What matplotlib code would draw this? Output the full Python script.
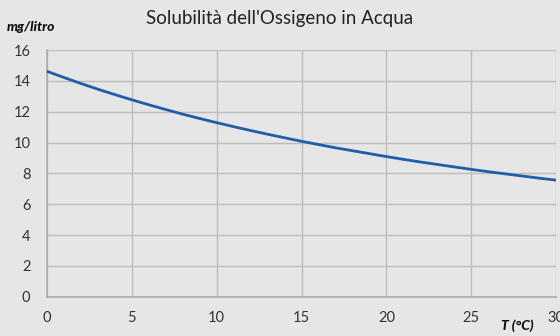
import matplotlib
matplotlib.use("Agg")
import matplotlib.pyplot as plt

# temperatura (°C) e ossigeno disciolto (mg/litro)
temp_c = list(range(0, 31))
oxygen_mg_l = [14.62, 14.22, 13.83, 13.46, 13.11, 12.77, 12.45, 12.14, 11.84, 11.56,
               11.29, 11.03, 10.78, 10.54, 10.31, 10.08, 9.87, 9.66, 9.47, 9.28,
               9.09, 8.91, 8.74, 8.58, 8.42, 8.26, 8.11, 7.97, 7.83, 7.69, 7.56]
x_ticks = [0, 5, 10, 15, 20, 25, 30]
y_ticks = [0, 2, 4, 6, 8, 10, 12, 14, 16]

plt.rcParams['font.family'] = ['Lato', 'DejaVu Sans']
bg = '#e6e6e6'

fig = plt.figure(figsize=(5.6, 3.36), dpi=100, facecolor=bg)
ax = fig.add_axes([0.084, 0.117, 0.909, 0.734], facecolor=bg)

ax.plot(temp_c, oxygen_mg_l, color='#1f5ea8', linewidth=2.0, zorder=3)

ax.set_xlim(0, 30)
ax.set_ylim(0, 16)
ax.set_xticks(x_ticks)
ax.set_yticks(y_ticks)
ax.grid(True, color='#bdbdbd', linewidth=1.0)
ax.tick_params(length=0, labelsize=10.5, colors='#333333')
ax.tick_params(axis='y', pad=12)
ax.tick_params(axis='x', pad=10)
for side in ['top', 'right']:
    ax.spines[side].set_visible(False)
for side in ['left', 'bottom']:
    ax.spines[side].set_color('#aaaaaa')
    ax.spines[side].set_linewidth(1.2)

fig.text(0.5, 0.945, "Solubilità dell'Ossigeno in Acqua", ha='center', va='center',
         fontsize=13.5, color='#222222')
fig.text(0.012, 0.92, 'mg/litro', ha='left', va='center', fontsize=10,
         fontweight='black', fontstyle='italic', color='#111111')
fig.text(0.895, 0.032, 'T (°C)', ha='left', va='center', fontsize=10,
         fontweight='black', fontstyle='italic', color='#111111')

fig.savefig('out.png', dpi=100, facecolor=bg)
